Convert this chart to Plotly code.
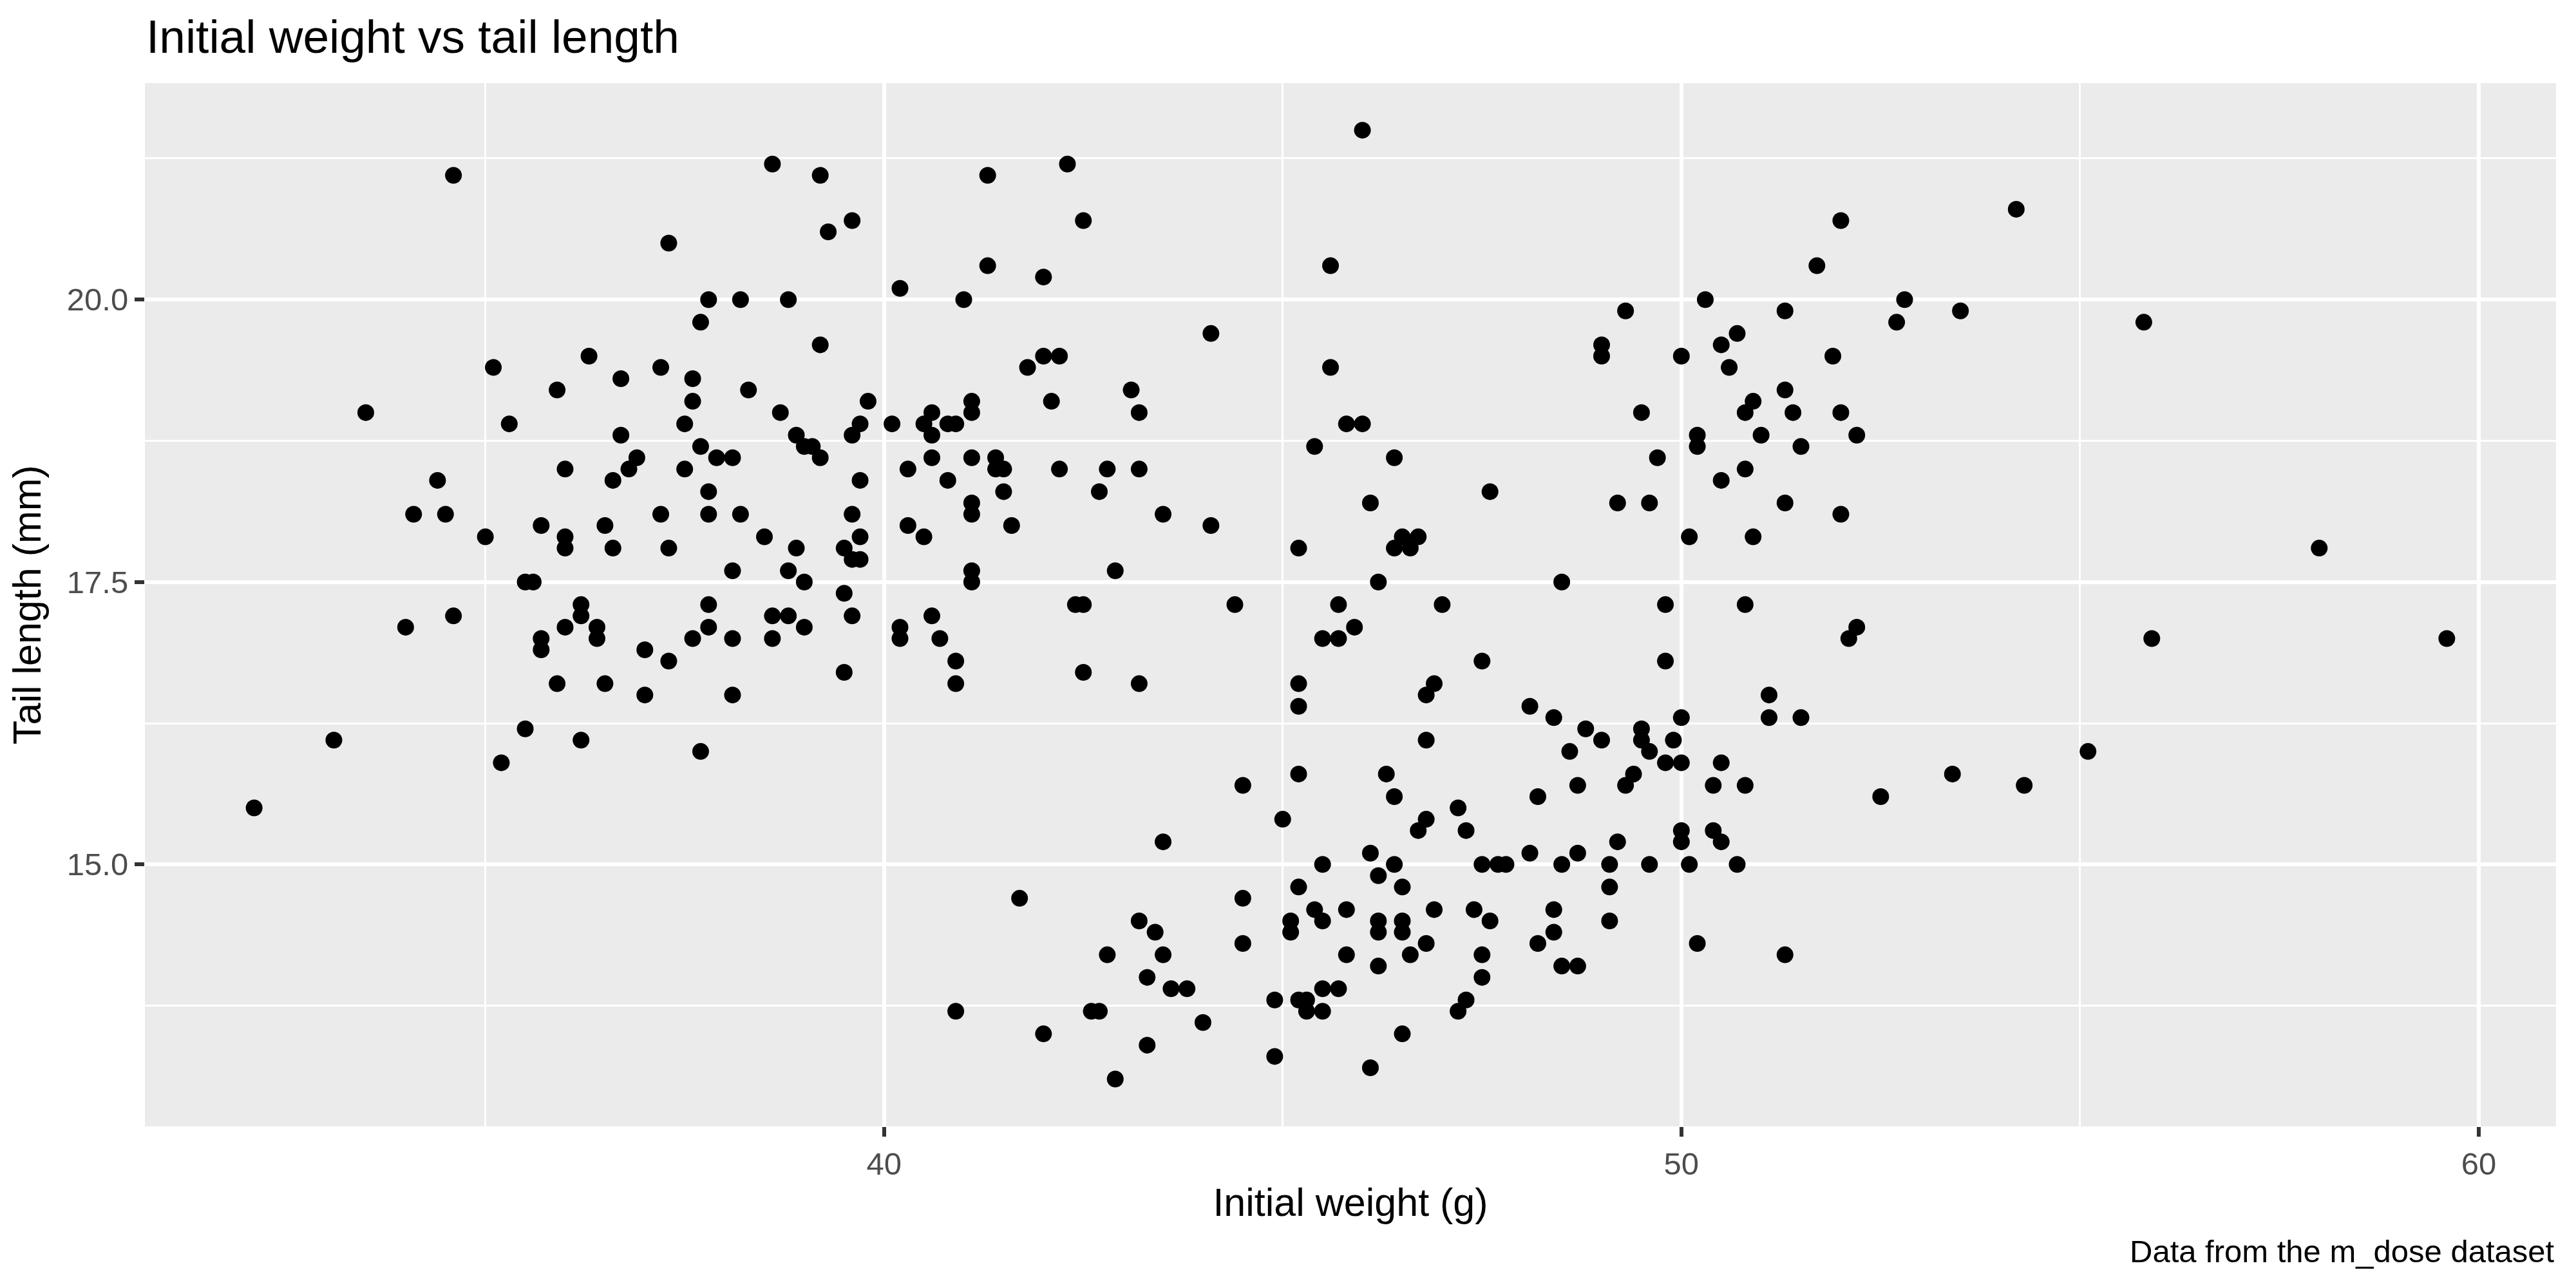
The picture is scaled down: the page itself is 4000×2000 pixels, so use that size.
import plotly.graph_objects as go

# Initial weight (g)
initial_weight = [
    34.6, 37.3, 37.8, 37.7, 35.1, 36.3, 35.9, 36.7, 37.2, 37.6, 37.6, 33.5, 35.3, 37.5, 36.7, 37.7, 36.9, 37.9,
    36.0, 36.8, 37.5, 34.4, 36.6, 37.8, 34.1, 34.5, 37.2, 37.8, 35.0, 35.7, 36.5, 36.0, 36.0, 36.6, 37.3, 35.5,
    35.6, 36.2, 36.2, 37.8, 34.6, 34.0, 36.0, 36.4, 37.8, 35.7, 36.4, 37.6, 35.7, 37.0, 37.3, 35.9, 36.5, 37.0,
    35.5, 33.1, 36.2, 37.7, 35.2, 32.1,
    38.6, 39.2, 39.6, 39.3, 41.3, 42.3, 42.5, 41.3, 42.0, 40.2, 41.0, 38.2, 38.8, 44.1, 39.2, 42.0, 42.2, 41.8,
    38.3, 43.1, 39.8, 41.1, 42.1, 38.7, 40.6, 41.1, 43.2, 39.7, 40.1, 40.5, 40.8, 40.9, 38.9, 39.6, 40.6, 39.0,
    39.1, 38.1, 39.2, 40.6, 41.1, 41.4,
    40.3, 41.4, 41.5, 42.2, 42.8, 43.2, 39.7, 40.8, 41.5, 42.7, 41.1, 38.2, 39.6, 41.1, 43.5, 40.3, 41.6, 44.1,
    38.5, 39.7, 40.5, 38.9, 39.5, 39.6, 39.7, 38.1, 38.8, 41.1, 42.9, 39.0, 41.1, 39.5, 42.4, 42.5, 44.4, 38.6,
    38.8, 39.6, 40.6, 39.0, 40.2, 38.1, 38.6, 40.2, 40.7, 40.9, 39.5, 42.5, 40.9, 43.2, 38.1, 44.5,
    43.5, 45.0, 41.7, 44.5, 43.2, 43.4, 44.5, 42.8, 43.5, 43.3, 43.6, 43.8, 44.9, 40.9, 42.6, 42.7, 44.0, 42.0,
    43.3, 44.9, 42.9,
    46.0, 45.6, 52.0, 51.7, 50.3, 49.3, 51.3, 50.7, 49.0, 50.5, 49.0, 50.0, 51.9, 50.6, 45.6, 51.3, 50.9, 49.5,
    50.8, 51.4, 52.0, 45.8, 46.0, 50.2, 51.0, 52.2, 45.4, 50.2, 51.5, 46.4, 49.7,
    54.2, 52.8, 53.5, 52.7, 55.8,
    50.8, 50.5, 47.6, 46.1, 49.2, 49.6, 51.3, 52.0, 50.1, 50.9, 46.5, 46.7, 45.2, 46.4, 46.6, 46.2, 48.5, 45.7,
    47.0, 49.8, 50.8, 45.9, 45.5, 45.7, 52.2, 52.1, 47.5, 49.8, 45.2, 46.9, 46.8, 45.2, 48.1, 48.4, 50.0, 51.1,
    51.1, 51.5, 48.8, 49.5, 46.8, 49.0, 49.5, 49.9, 48.6, 49.6, 49.8, 50.0, 50.5, 45.2, 46.3, 49.4, 48.7, 49.3,
    50.4, 50.8, 46.4, 48.2, 47.2,
    58.0, 55.9, 59.6, 55.1, 53.4, 54.3, 52.5,
    46.8, 46.7, 47.3, 49.2, 50.0, 50.0, 50.4, 50.5, 46.1, 48.1, 48.7, 45.5, 46.4, 47.5, 47.7, 47.8, 48.5, 49.1,
    49.6, 50.1, 50.7, 46.2, 45.2, 46.5, 49.1, 45.4, 45.8, 46.9, 47.4, 48.4, 45.1, 45.1, 45.5, 46.2, 46.2, 46.5,
    46.5, 47.6, 49.1, 48.4, 46.8, 48.2, 50.2, 45.8, 46.6, 47.5, 51.3, 46.2, 48.5, 48.7, 47.5, 45.5, 45.7, 45.2,
    45.3, 47.3, 45.3, 45.5, 47.2, 46.5, 46.1,
]

# Tail length (mm)
tail_length = [
    21.1, 20.5, 20.0, 19.8, 19.4, 19.5, 19.2, 19.3, 19.4, 19.3, 19.1, 19.0, 18.9, 18.9, 18.8, 18.7, 18.6, 18.6,
    18.5, 18.5, 18.5, 18.4, 18.4, 18.3, 18.1, 18.1, 18.1, 18.1, 17.9, 18.0, 18.0, 17.9, 17.8, 17.8, 17.8, 17.5,
    17.5, 17.3, 17.2, 17.3, 17.2, 17.1, 17.1, 17.1, 17.1, 17.0, 17.0, 17.0, 16.9, 16.9, 16.8, 16.6, 16.6, 16.5,
    16.2, 16.1, 16.1, 16.0, 15.9, 15.5,
    21.2, 21.1, 20.7, 20.6, 21.1, 21.2, 20.7, 20.3, 20.2, 20.1, 20.0, 20.0, 20.0, 19.7, 19.6, 19.5, 19.5, 19.4,
    19.2, 19.2, 19.1, 19.1, 19.1, 19.0, 19.0, 19.0, 19.0, 18.9, 18.9, 18.9, 18.9, 18.9, 18.8, 18.8, 18.8, 18.7,
    18.7, 18.6, 18.6, 18.6, 18.6, 18.6,
    18.5, 18.5, 18.5, 18.5, 18.5, 18.5, 18.4, 18.4, 18.3, 18.3, 18.2, 18.1, 18.1, 18.1, 18.1, 18.0, 18.0, 18.0,
    17.9, 17.9, 17.9, 17.8, 17.8, 17.7, 17.7, 17.6, 17.6, 17.6, 17.6, 17.5, 17.5, 17.4, 17.3, 17.3, 17.3, 17.2,
    17.2, 17.2, 17.2, 17.1, 17.1, 17.0, 17.0, 17.0, 17.0, 16.8, 16.7, 16.7, 16.6, 16.6, 16.5, 15.7,
    15.2, 15.4, 14.7, 14.7, 14.5, 14.4, 14.3, 14.2, 14.2, 14.0, 13.9, 13.9, 13.8, 13.7, 13.7, 13.7, 13.6, 13.5,
    13.4, 13.3, 13.1,
    21.5, 20.3, 20.7, 20.3, 20.0, 19.9, 19.9, 19.7, 19.6, 19.6, 19.5, 19.5, 19.5, 19.4, 19.4, 19.2, 19.1, 19.0,
    19.0, 19.0, 19.0, 18.9, 18.9, 18.8, 18.8, 18.8, 18.7, 18.7, 18.7, 18.6, 18.6,
    20.8, 20.0, 19.9, 19.8, 19.8,
    18.5, 18.4, 18.3, 18.2, 18.2, 18.2, 18.2, 18.1, 17.9, 17.9, 17.9, 17.9, 17.8, 17.8, 17.8, 17.5, 17.5, 17.3,
    17.3, 17.3, 17.3, 17.1, 17.0, 17.0, 17.1, 17.0, 16.8, 16.8, 16.6, 16.6, 16.5, 16.4, 16.4, 16.3, 16.3, 16.5,
    16.3, 16.3, 16.2, 16.2, 16.1, 16.1, 16.1, 16.1, 16.0, 16.0, 15.9, 15.9, 15.9, 15.8, 15.8, 15.8, 15.7, 15.7,
    15.7, 15.7, 15.6, 15.6, 15.5,
    17.8, 17.0, 17.0, 16.0, 15.8, 15.7, 15.6,
    15.4, 15.3, 15.3, 15.2, 15.3, 15.2, 15.3, 15.2, 15.1, 15.1, 15.1, 15.0, 15.0, 15.0, 15.0, 15.0, 15.0, 15.0,
    15.0, 15.0, 15.0, 14.9, 14.8, 14.8, 14.8, 14.6, 14.6, 14.6, 14.6, 14.6, 14.5, 14.4, 14.5, 14.5, 14.4, 14.5,
    14.4, 14.5, 14.5, 14.4, 14.3, 14.3, 14.3, 14.2, 14.2, 14.2, 14.2, 14.1, 14.1, 14.1, 14.0, 13.9, 13.9, 13.8,
    13.8, 13.8, 13.7, 13.7, 13.7, 13.5, 13.2,
]

x_ticks = [40, 50, 60]
y_ticks = [15.0, 17.5, 20.0]
y_tick_labels = ["15.0", "17.5", "20.0"]

title_text = "Initial weight vs tail length"
x_title = "Initial weight (g)"
y_title = "Tail length (mm)"
caption_text = "Data from the m_dose dataset"

FONT = "Liberation Sans, Arial, Helvetica, sans-serif"

fig = go.Figure()
fig.add_trace(go.Scatter(
    x=initial_weight, y=tail_length, mode="markers",
    marker=dict(color="black", size=26, line=dict(width=0)),
    showlegend=False, hoverinfo="x+y",
))

fig.update_layout(
    width=4000, height=2000,
    margin=dict(l=217, r=39, t=121, b=259),
    paper_bgcolor="white", plot_bgcolor="#EBEBEB",
    font=dict(family=FONT, color="black"),
    annotations=[
        dict(text=title_text, xref="paper", yref="paper", x=0, y=1.045,
             xanchor="left", yanchor="middle", showarrow=False,
             font=dict(size=73, color="black", family=FONT)),
        dict(text=caption_text, xref="paper", yref="paper", x=1, y=-0.120,
             xanchor="right", yanchor="middle", showarrow=False,
             font=dict(size=49, color="black", family=FONT)),
    ],
)

fig.update_xaxes(
    range=[30.73, 60.97], tickvals=x_ticks, ticktext=[str(v) for v in x_ticks],
    showgrid=True, gridcolor="white", gridwidth=6, zeroline=False,
    minor=dict(dtick=5, tick0=0, showgrid=True, gridcolor="white", gridwidth=3, ticklen=0),
    ticks="outside", ticklen=15, tickwidth=6, tickcolor="#333333",
    tickfont=dict(size=49, color="#4D4D4D", family=FONT),
    showline=False,
    title=dict(text=x_title, font=dict(size=61, color="black", family=FONT), standoff=12),
)
fig.update_yaxes(
    range=[12.681, 21.917], tickvals=y_ticks, ticktext=y_tick_labels,
    showgrid=True, gridcolor="white", gridwidth=6, zeroline=False,
    minor=dict(dtick=1.25, tick0=0, showgrid=True, gridcolor="white", gridwidth=3, ticklen=0),
    ticks="outside", ticklen=15, tickwidth=6, tickcolor="#333333",
    tickfont=dict(size=49, color="#4D4D4D", family=FONT),
    showline=False,
    title=dict(text=y_title, font=dict(size=61, color="black", family=FONT), standoff=22),
)

fig.write_html("out.html")
